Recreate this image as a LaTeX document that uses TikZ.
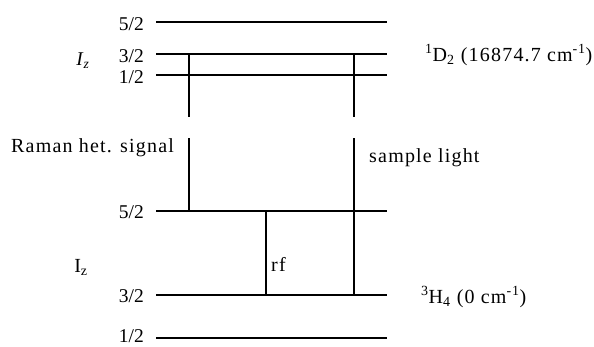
\documentclass[tikz,border=0pt]{standalone}
\usepackage{fontspec}
\setmainfont{Liberation Serif}
\newfontfamily\widefont[LetterSpace=6]{Liberation Serif}
\usetikzlibrary{calc,positioning}

\begin{document}
\begin{tikzpicture}[x=1pt,y=-1pt,inner sep=0pt,
	level/.style={line width=2.8pt},
	trans/.style={line width=1.4pt},
	lab/.style={font=\fontsize{19.5}{22}\selectfont},
	wlab/.style={font=\fontsize{20}{23}\widefont}]

\useasboundingbox (0,0) rectangle (594,346);

% upper manifold 1D2
\coordinate (A5) at (156,22);  \coordinate (B5) at (387,22);
\coordinate (A3) at (156,54);  \coordinate (B3) at (387,54);
\coordinate (A1) at (156,75);  \coordinate (B1) at (387,75);

% ground manifold 3H4
\coordinate (C5) at (156,211); \coordinate (D5) at (387,211);
\coordinate (C3) at (156,295); \coordinate (D3) at (387,295);
\coordinate (C1) at (156,338); \coordinate (D1) at (387,338);

% ends of the optical lines
\coordinate (K) at (189,54);   \coordinate (K1) at (189,117);
\coordinate (K2) at (189,138); \coordinate (L) at (189,211);
\coordinate (M) at (354,54);   \coordinate (M1) at (354,117);
\coordinate (M2) at (354,138); \coordinate (N) at (354,295);
\coordinate (P) at (266,211);  \coordinate (Q) at (266,295);

\draw [level]	(A5) -- (B5)
	(A3) -- (B3)
	(A1) -- (B1)
	(C5) -- (D5)
	(C3) -- (D3)
	(C1) -- (D1);

\draw [trans]	(K) -- (K1)
	(K2) -- (L)
	(M) -- (M1)
	(M2) -- (N)
	(P) -- (Q);

\node [lab] (a5) at (A5) [left=12pt,yshift=-2pt]{5/2};
\node [lab] (a3) at (A3) [left=12pt,yshift=-2pt]{3/2};
\node [lab] (a1) at (A1) [left=12pt,yshift=-2pt]{1/2};
\node [lab] (c5) at (C5) [left=12pt,yshift=-1pt]{5/2};
\node [lab] (c3) at (C3) [left=12pt,yshift=-1pt]{3/2};
\node [lab] (c1) at (C1) [left=12pt,yshift=1.5pt]{1/2};

\node [lab,anchor=base] (iu) at (83,65){\textit{I}\textsubscript{\textit{z}}};
\node [wlab,anchor=base] (il) at (81,272){I\textsubscript{z}};

\node [wlab,anchor=base west] (raman) at (11,152){Raman het. signal};
\node [wlab,anchor=base west] (samp) at (369,162){sample light};
\node [wlab,anchor=base west] (rf) at (271,271){rf};
\node [wlab,anchor=base west] (d2) at (425,61)
	{\textsuperscript{1}D\textsubscript{2} (16874.7 cm\textsuperscript{-1})};
\node [wlab,anchor=base west] (h4) at (421,303)
	{\textsuperscript{3}H\textsubscript{4} (0 cm\textsuperscript{-1})};

\end{tikzpicture}
\end{document}
